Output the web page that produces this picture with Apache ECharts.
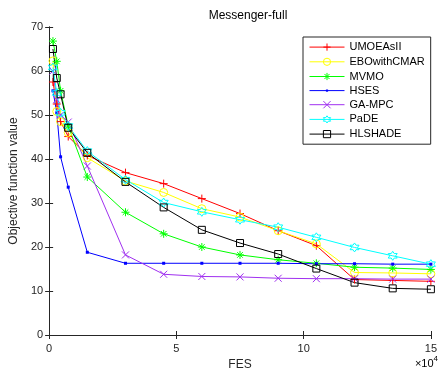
<!DOCTYPE html>
<html><head><meta charset="utf-8">
<script src="https://cdn.jsdelivr.net/npm/echarts@6/dist/echarts.min.js"></script>
<style>html,body{margin:0;padding:0;background:#fff}#c{width:440px;height:376px}</style>
</head><body><div id="c"></div>
<script>
var fes = [1500, 3000, 4500, 7500, 15000, 30000, 45000, 60000, 75000, 90000, 105000, 120000, 135000, 150000];
var xTicks = ['0', '5', '10', '15'];
var umoeasII = [57.5, 52.5, 48.5, 45.1, 40.8, 36.9, 34.4, 31.0, 27.6, 23.7, 20.3, 12.6, 12.4, 12.2];
var eboWithCMAR = [62.3, 50.8, 48.5, 46.0, 40.3, 35.0, 32.4, 28.7, 26.8, 23.7, 20.7, 14.2, 14.1, 13.9];
var mvmo = [66.8, 62.2, 55.5, 47.5, 35.9, 27.9, 23.0, 20.0, 18.2, 17.1, 16.3, 15.4, 15.2, 14.9];
var hses = [55.5, 50.5, 40.5, 33.6, 18.8, 16.3, 16.3, 16.3, 16.3, 16.3, 16.2, 16.2, 16.1, 16.1];
var gaMpc = [60.0, 53.5, 50.0, 48.4, 38.4, 18.2, 13.8, 13.3, 13.2, 12.9, 12.8, 12.8, 12.7, 12.7];
var paDE = [60.8, 55.0, 50.5, 47.5, 41.8, 35.3, 30.1, 28.0, 26.2, 24.5, 22.2, 19.9, 18.0, 16.1];
var hlshade = [65.0, 58.4, 54.7, 47.1, 41.4, 34.8, 29.0, 23.9, 20.9, 18.4, 15.1, 11.9, 10.6, 10.4];

var names = ['UMOEAsII', 'EBOwithCMAR', 'MVMO', 'HSES', 'GA-MPC', 'PaDE', 'HLSHADE'];
var values = [umoeasII, eboWithCMAR, mvmo, hses, gaMpc, paDE, hlshade];
var colors = ['#ff0000', '#ffff00', '#00ff00', '#0000ff', '#a030f0', '#00ffff', '#000000'];
var symbols = [
  'path://M0,5L10,5M5,0L5,10',
  'circle',
  'path://M0,5L10,5M5,0L5,10M1.5,1.5L8.5,8.5M1.5,8.5L8.5,1.5',
  'path://M0,0M10,10M3.5,3.5L6.5,3.5L6.5,6.5L3.5,6.5Z',
  'path://M0,0L10,10M0,10L10,0',
  'path://M5,0L6.443,2.5L9.33,2.5L7.887,5L9.33,7.5L6.443,7.5L5,10L3.557,7.5L0.67,7.5L2.113,5L0.67,2.5L3.557,2.5Z',
  'rect'
];
var sizes = [8, 8, 8, 10, 7, 9, 7];

var series = names.map(function (n, i) {
  var filled = (i === 3);
  return {
    name: n, type: 'line',
    data: fes.map(function (x, j) { return [x, values[i][j]]; }),
    symbol: symbols[i], symbolSize: sizes[i], showAllSymbol: true,
    lineStyle: { color: colors[i], width: 1 },
    itemStyle: filled ? { color: colors[i], borderWidth: 0 } :
      { color: 'none', borderColor: colors[i], borderWidth: 1 },
    emphasis: { disabled: true },
    animation: false
  };
});

var axisCol = '#262626';
var chart = echarts.init(document.getElementById('c'));
chart.setOption({
  animation: false,
  backgroundColor: '#fff',
  title: {
    text: 'Messenger-full', left: 243, textAlign: 'center', top: 5,
    textStyle: { fontFamily: 'Liberation Sans', fontSize: 12, fontWeight: 'normal', color: '#000' }
  },
  grid: { left: 48, right: 2, top: 27, bottom: 41 },
  legend: {
    orient: 'vertical', left: 303, top: 37,
    backgroundColor: '#fff', borderColor: axisCol, borderWidth: 1,
    padding: [4, 6, 4, 6], itemGap: 2.5, itemWidth: 35, itemHeight: 9,
    lineStyle: { width: 1 },
    itemStyle: { borderWidth: 1 },
    textStyle: { fontFamily: 'Liberation Sans', fontSize: 11, color: '#000' },
    data: names
  },
  xAxis: [{
    type: 'value', min: 0, max: 150000, interval: 50000,
    name: 'FES', nameLocation: 'middle', nameGap: 23,
    nameTextStyle: { fontFamily: 'Liberation Sans', fontSize: 12, color: axisCol },
    axisLine: { lineStyle: { color: axisCol, width: 1 } },
    axisTick: { inside: true, length: 4, lineStyle: { color: axisCol } },
    axisLabel: { margin: 8, fontFamily: 'Liberation Sans', fontSize: 11, color: axisCol,
      formatter: function (v) { return xTicks[Math.round(v / 50000)]; } },
    splitLine: { show: false }
  }, {
    type: 'value', position: 'top', min: 0, max: 150000, interval: 50000,
    axisLine: { lineStyle: { color: axisCol, width: 1 } },
    axisTick: { inside: true, length: 4, lineStyle: { color: axisCol } },
    axisLabel: { show: false }, splitLine: { show: false }
  }],
  yAxis: [{
    type: 'value', min: 0, max: 70, interval: 10,
    name: 'Objective function value', nameLocation: 'middle', nameGap: 21,
    nameTextStyle: { fontFamily: 'Liberation Sans', fontSize: 12, color: axisCol },
    axisLine: { show: true, lineStyle: { color: axisCol, width: 1 } },
    axisTick: { show: true, inside: true, length: 4, lineStyle: { color: axisCol } },
    axisLabel: { margin: 6, fontFamily: 'Liberation Sans', fontSize: 11, color: axisCol },
    splitLine: { show: false }
  }, {
    type: 'value', position: 'right', min: 0, max: 70, interval: 10,
    axisLine: { show: true, lineStyle: { color: axisCol, width: 1 } },
    axisTick: { show: true, inside: true, length: 4, lineStyle: { color: axisCol } },
    axisLabel: { show: false }, splitLine: { show: false }
  }],
  graphic: [{
    type: 'text', right: 2, top: 355,
    style: {
      text: '{a|×10}{b|4}',
      rich: {
        a: { fontFamily: 'Liberation Sans', fontSize: 11, color: axisCol, verticalAlign: 'bottom' },
        b: { fontFamily: 'Liberation Sans', fontSize: 8, color: axisCol, verticalAlign: 'top', padding: [0, 0, 6, 0] }
      }
    }
  }],
  series: series
});
</script></body></html>
